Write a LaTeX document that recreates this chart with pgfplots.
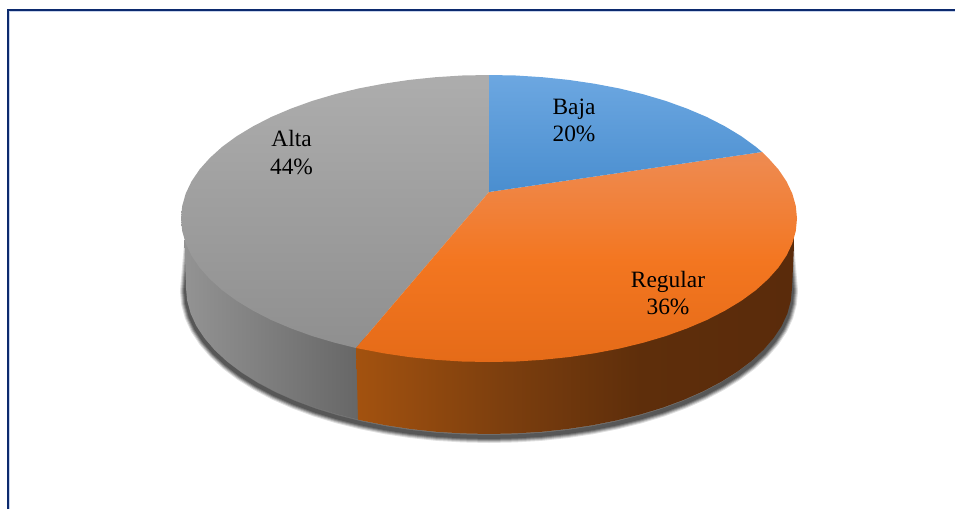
\documentclass[border=0pt]{standalone}
\usepackage{pgfplots}
\pgfplotsset{compat=1.18}
\usepackage{pgfplotstable}
\usepackage{fontspec}
\setmainfont{Liberation Serif}
\definecolor{navy}{HTML}{0C2A6E}
\definecolor{lightframe}{HTML}{C8D4EC}
\definecolor{blueT}{HTML}{6CA7E1}
\definecolor{blueB}{HTML}{4A8ECF}
\definecolor{orT}{HTML}{EE8B52}
\definecolor{orU}{HTML}{F18038}
\definecolor{orM}{HTML}{F37620}
\definecolor{orB}{HTML}{E56B18}
\definecolor{grT}{HTML}{ADADAD}
\definecolor{grB}{HTML}{8F8F8F}
\definecolor{grL}{HTML}{939393}
\definecolor{grR}{HTML}{666666}
\definecolor{osA}{HTML}{A3520F}
\definecolor{osB}{HTML}{7D3F0E}
\definecolor{osC}{HTML}{5E2E0B}
\definecolor{osD}{HTML}{5A2B0B}
\pgfdeclarehorizontalshading{orangeside}{100bp}{color(0bp)=(osA); color(25bp)=(osA); color(41.5bp)=(osB); color(57.5bp)=(osC); color(75bp)=(osD); color(100bp)=(osD)}
\pgfdeclareverticalshading{orangetop}{100bp}{color(0bp)=(orB); color(25bp)=(orB); color(49bp)=(orM); color(61bp)=(orU); color(75bp)=(orT); color(100bp)=(orT)}
\pgfplotstableread{
x y
190 245
186 291
187.2 303.7
190.6 316.4
196.3 328.8
204.3 340.9
214.4 352.7
226.6 364
240.8 374.7
256.9 384.8
274.7 394.2
294.2 402.8
315.2 410.6
337.5 417.4
361 423.3
385.4 428.2
410.6 432
436.4 434.8
462.6 436.4
489 437
515.4 436.4
541.6 434.8
567.4 432
592.6 428.2
617 423.3
640.5 417.4
662.8 410.6
683.8 402.8
703.3 394.2
721.1 384.8
737.2 374.7
751.4 364
763.6 352.7
773.7 340.9
781.7 328.8
787.4 316.4
790.8 303.7
792 291
788 245
}\shadowline
\begin{document}
\begin{tikzpicture}
\begin{axis}[
  hide axis, scale only axis, width=955pt, height=509pt,
  xmin=0, xmax=955, ymin=0, ymax=509, y dir=reverse,
  clip=true,
]
\path (axis cs:0,0) rectangle (axis cs:955,509);
% frame
\addplot[lightframe, line width=1pt, forget plot] coordinates {(9.8,509) (9.8,11.5) (955,11.5)};
\addplot[navy, line width=2.8pt, forget plot] coordinates {(8,509) (8,10) (955,10)};
% shadow
\addplot[black, opacity=0.12, line width=12pt, forget plot] table {\shadowline};
\addplot[black, opacity=0.16, line width=10pt, forget plot] table {\shadowline};
\addplot[black, opacity=0.20, line width=8pt, forget plot] table {\shadowline};
\addplot[black, opacity=0.24, line width=6pt, forget plot] table {\shadowline};
\addplot[black, opacity=0.24, line width=4pt, forget plot] table {\shadowline};
% grey side
\addplot[draw=none, left color=grL, right color=grR, forget plot] coordinates {
(184.5,240)(186,288)(187.2,300.7)(190.6,313.4)(196.3,325.8)(204.3,337.9)(214.4,349.7)(226.6,361)(240.8,371.7)(256.9,381.8)(274.7,391.2)(294.2,399.8)(315.2,407.6)(337.5,414.4)(358,419.6)(361,419.6)(361,340)(300,250)} -- cycle;
% orange side
\addplot[draw=none, shading=orangeside, forget plot] coordinates {
(356,340)(358,419.6)(361,420.3)(385.4,425.2)(410.6,429)(436.4,431.8)(462.6,433.4)(489,434)(515.4,433.4)(541.6,431.8)(567.4,429)(592.6,425.2)(617,420.3)(640.5,414.4)(662.8,407.6)(683.8,399.8)(703.3,391.2)(721.1,381.8)(737.2,371.7)(751.4,361)(763.6,349.7)(773.7,337.9)(781.7,325.8)(787.4,313.4)(790.8,300.7)(792,288)(794.5,235)(600,250)} -- cycle;
% Alta 44
\addplot[draw=none, top color=grT, bottom color=grB, forget plot] coordinates {
(489,192)(356,348)(335,342.8)(312.3,336.1)(291,328.4)(271.2,320)(253.1,310.7)(236.7,300.8)(222.3,290.3)(209.9,279.1)(199.6,267.6)(191.5,255.6)(185.7,243.4)(182.2,231)(181,218.5)(182.2,206)(185.7,193.6)(191.5,181.4)(199.6,169.4)(209.9,157.9)(222.3,146.7)(236.7,136.2)(253.1,126.3)(271.2,117)(291,108.6)(312.3,100.9)(335,94.2)(358.8,88.4)(383.7,83.7)(409.3,79.9)(435.5,77.2)(462.1,75.5)(489,75)} -- cycle;
% Regular 36
\addplot[draw=none, shading=orangetop, forget plot] coordinates {
(489,192)(762,152)(768.1,157.9)(778.4,169.4)(786.5,181.4)(792.3,193.6)(795.8,206)(797,218.5)(795.8,231)(792.3,243.4)(786.5,255.6)(778.4,267.6)(768.1,279.1)(755.7,290.3)(741.3,300.8)(724.9,310.7)(706.8,320)(687,328.4)(665.7,336.1)(643,342.8)(619.2,348.6)(594.3,353.3)(568.7,357.1)(542.5,359.8)(515.9,361.5)(489,362)(462.1,361.5)(435.5,359.8)(409.3,357.1)(383.7,353.3)(356,348)} -- cycle;
% Baja 20
\addplot[draw=none, top color=blueT, bottom color=blueB, forget plot] coordinates {
(489,192)(489,75)(515.9,75.5)(542.5,77.2)(568.7,79.9)(594.3,83.7)(619.2,88.4)(643,94.2)(665.7,100.9)(687,108.6)(706.8,117)(724.9,126.3)(741.3,136.2)(755.7,146.7)(762,152)} -- cycle;
% labels
\node[align=center, font=\fontsize{23.4}{27.5}\selectfont, text=black] at (axis cs:574,120.5) {Baja\\20\%};
\node[align=center, font=\fontsize{23.4}{27.5}\selectfont, text=black] at (axis cs:668,293) {Regular\\36\%};
\node[align=center, font=\fontsize{23.4}{27.5}\selectfont, text=black] at (axis cs:291.5,152.5) {Alta\\44\%};
\end{axis}
\end{tikzpicture}
\end{document}
